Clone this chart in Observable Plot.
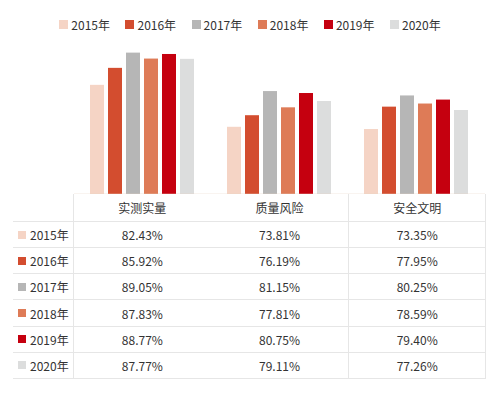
<!DOCTYPE html>
<html><head><meta charset="utf-8">
<script src="https://cdn.jsdelivr.net/npm/d3@7"></script>
<script src="https://cdn.jsdelivr.net/npm/@observablehq/plot@0.6"></script>
<style>
html,body{margin:0;padding:0;background:#fff;}
body{width:500px;height:393px;overflow:hidden;font-family:"Noto Sans CJK SC","Noto Sans",sans-serif;color:#333;}
#legend{height:40px;display:flex;justify-content:center;align-items:center;gap:15.5px;font-size:12px;padding-top:9px;box-sizing:border-box;}
#legend .it{display:flex;align-items:center;}
#legend .sw{width:9px;height:9px;margin-right:3px;}
#chart{height:154px;}
#table{position:absolute;left:13px;top:194px;display:grid;grid-template-columns:60px 137.7px 137.7px 137.6px;grid-template-rows:28px repeat(6,26.17px);font-size:12px;}
#table div{display:flex;align-items:center;justify-content:center;box-sizing:border-box;}
#table .lab{justify-content:flex-start;padding-left:5px;}
#table .lab .sw{width:8px;height:8px;margin-right:4px;}
</style></head>
<body>
<div id="legend"></div>
<div id="chart"></div>
<div id="table"></div>
<script>
const categories = ["实测实量", "质量风险", "安全文明"];
const years = ["2015年", "2016年", "2017年", "2018年", "2019年", "2020年"];
const colors = ["#f5d4c5", "#d34d2f", "#b6b6b6", "#de7b57", "#c5000f", "#dcdddd"];
const v2015 = [82.43, 73.81, 73.35];
const v2016 = [85.92, 76.19, 77.95];
const v2017 = [89.05, 81.15, 80.25];
const v2018 = [87.83, 77.81, 78.59];
const v2019 = [88.77, 80.75, 79.40];
const v2020 = [87.77, 79.11, 77.26];
const series = [v2015, v2016, v2017, v2018, v2019, v2020];
const yMin = 60, yMax = 90;

const data = [];
years.forEach((y, i) => categories.forEach((c, j) => data.push({year: y, category: c, value: series[i][j]})));

// legend
const leg = document.getElementById("legend");
years.forEach((y, i) => {
  const it = document.createElement("div"); it.className = "it";
  const sw = document.createElement("span"); sw.className = "sw"; sw.style.background = colors[i];
  const t = document.createElement("span"); t.textContent = y;
  it.append(sw, t); leg.append(it);
});

const plot = Plot.plot({
  width: 500, height: 154,
  marginLeft: 73, marginRight: 14, marginTop: 8, marginBottom: 0,
  fx: {domain: categories, padding: 0, axis: null},
  x: {domain: years, paddingInner: 0.21, paddingOuter: 0.866, axis: null},
  y: {domain: [yMin, yMax], axis: null},
  color: {domain: years, range: colors},
  marks: [
    Plot.barY(data, {fx: "category", x: "year", y1: () => yMin, y2: "value", fill: "year"}),
    Plot.ruleY([yMin], {stroke: "#e8d3c3", strokeWidth: 1.5})
  ]
});
document.getElementById("chart").append(plot);

// table
const tb = document.getElementById("table");
const line = "1px solid #e6e6e6";
function cell(text, opts = {}) {
  const d = document.createElement("div");
  if (opts.cls) d.className = opts.cls;
  if (opts.sw) { const s = document.createElement("span"); s.className = "sw"; s.style.background = opts.sw; d.append(s); }
  const t = document.createElement("span"); t.textContent = text; d.append(t);
  Object.assign(d.style, opts.style || {});
  tb.append(d);
}
cell("", {style: {borderBottom: line}});
categories.forEach((c, j) => cell(c, {style: {borderBottom: line, borderLeft: j === 1 ? "none" : line, borderRight: j === 2 ? line : "none"}}));
years.forEach((y, i) => {
  cell(y, {cls: "lab", sw: colors[i], style: {borderBottom: line}});
  categories.forEach((c, j) => cell(series[i][j].toFixed(2) + "%", {style: {borderBottom: line, borderLeft: j === 1 ? "none" : line, borderRight: j === 2 ? line : "none"}}));
});
</script>
</body></html>
